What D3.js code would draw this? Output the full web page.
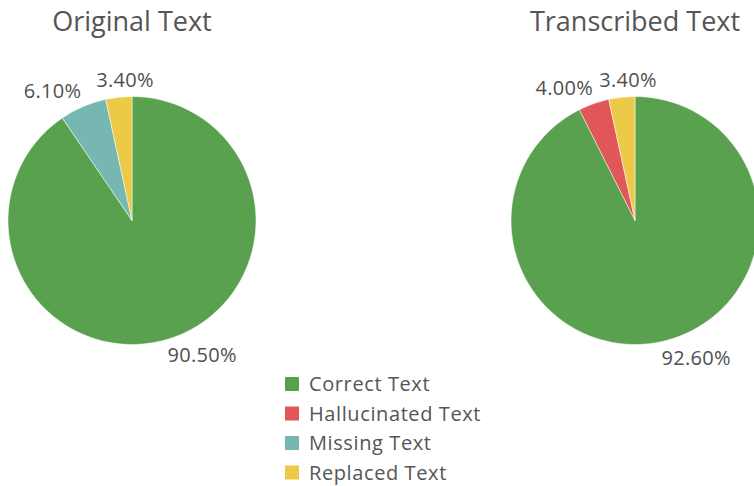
<!DOCTYPE html>
<html><head><meta charset="utf-8">
<script src="https://cdn.jsdelivr.net/npm/d3@7"></script>
<style>body{margin:0;background:#fff;} svg{display:block;font-family:"Open Sans", sans-serif;}</style>
</head><body><svg id="c" width="754" height="486"></svg>
<script>
const categories = ["Correct Text", "Hallucinated Text", "Missing Text", "Replaced Text"];
const colors = ["#59A14F", "#E15759", "#76B7B2", "#EDC948"];
const chartTitles = ["Original Text", "Transcribed Text"];
const originalCats = ["Correct Text", "Missing Text", "Replaced Text"];
const originalValues = [90.5, 6.1, 3.4];
const transcribedCats = ["Correct Text", "Hallucinated Text", "Replaced Text"];
const transcribedValues = [92.6, 4.0, 3.4];

const svg = d3.select("#c");
const color = d3.scaleOrdinal().domain(categories).range(colors);
const R = 124;
const pies = [
  {title: chartTitles[0], cats: originalCats, vals: originalValues, cx: 132, cy: 220.5},
  {title: chartTitles[1], cats: transcribedCats, vals: transcribedValues, cx: 635, cy: 220.5}
];
const pie = d3.pie().sort(null).value(d => d.v);
const arc = d3.arc().innerRadius(0).outerRadius(R);
const lab = d3.arc().innerRadius(141).outerRadius(141);

pies.forEach(p => {
  const data = p.cats.map((c, i) => ({c, v: p.vals[i]}));
  const g = svg.append("g").attr("transform", `translate(${p.cx},${p.cy})`);
  const arcs = pie(data);
  g.selectAll("path").data(arcs).join("path")
    .attr("d", arc).attr("fill", d => color(d.data.c))
    .attr("stroke", "#fff").attr("stroke-width", 0.5);
  g.selectAll("text.lbl").data(arcs).join("text").attr("class", "lbl")
    .each(function(d) {
      const [x, y] = lab.centroid(d);
      const a = (d.startAngle + d.endAngle) / 2;
      const s = Math.sin(a);
      const anchor = Math.abs(s) < 0.2 ? "middle" : (s > 0 ? "start" : "end");
      const dx = anchor === "middle" ? 8 : (anchor === "start" ? -6 : 5);
      d3.select(this).attr("x", x + dx).attr("y", y).attr("dy", "0.35em")
        .attr("text-anchor", anchor);
    })
    .attr("font-size", 20).attr("letter-spacing", 0.3).attr("fill", "#505050")
    .text(d => d.data.v.toFixed(2) + "%");
  svg.append("text").attr("x", p.cx).attr("y", 31).attr("text-anchor", "middle")
    .attr("font-size", 27).attr("fill", "#555").text(p.title);
});

const leg = svg.append("g").attr("transform", "translate(285,384)");
const rows = leg.selectAll("g").data(categories).join("g")
  .attr("transform", (d, i) => `translate(0,${i * 29.5})`);
rows.append("rect").attr("x", 0).attr("y", -7).attr("width", 14).attr("height", 14)
  .attr("fill", d => color(d));
rows.append("text").attr("x", 24).attr("y", 0).attr("dy", "0.35em")
  .attr("font-size", 20).attr("letter-spacing", 0.6).attr("fill", "#555").text(d => d);
</script></body></html>
